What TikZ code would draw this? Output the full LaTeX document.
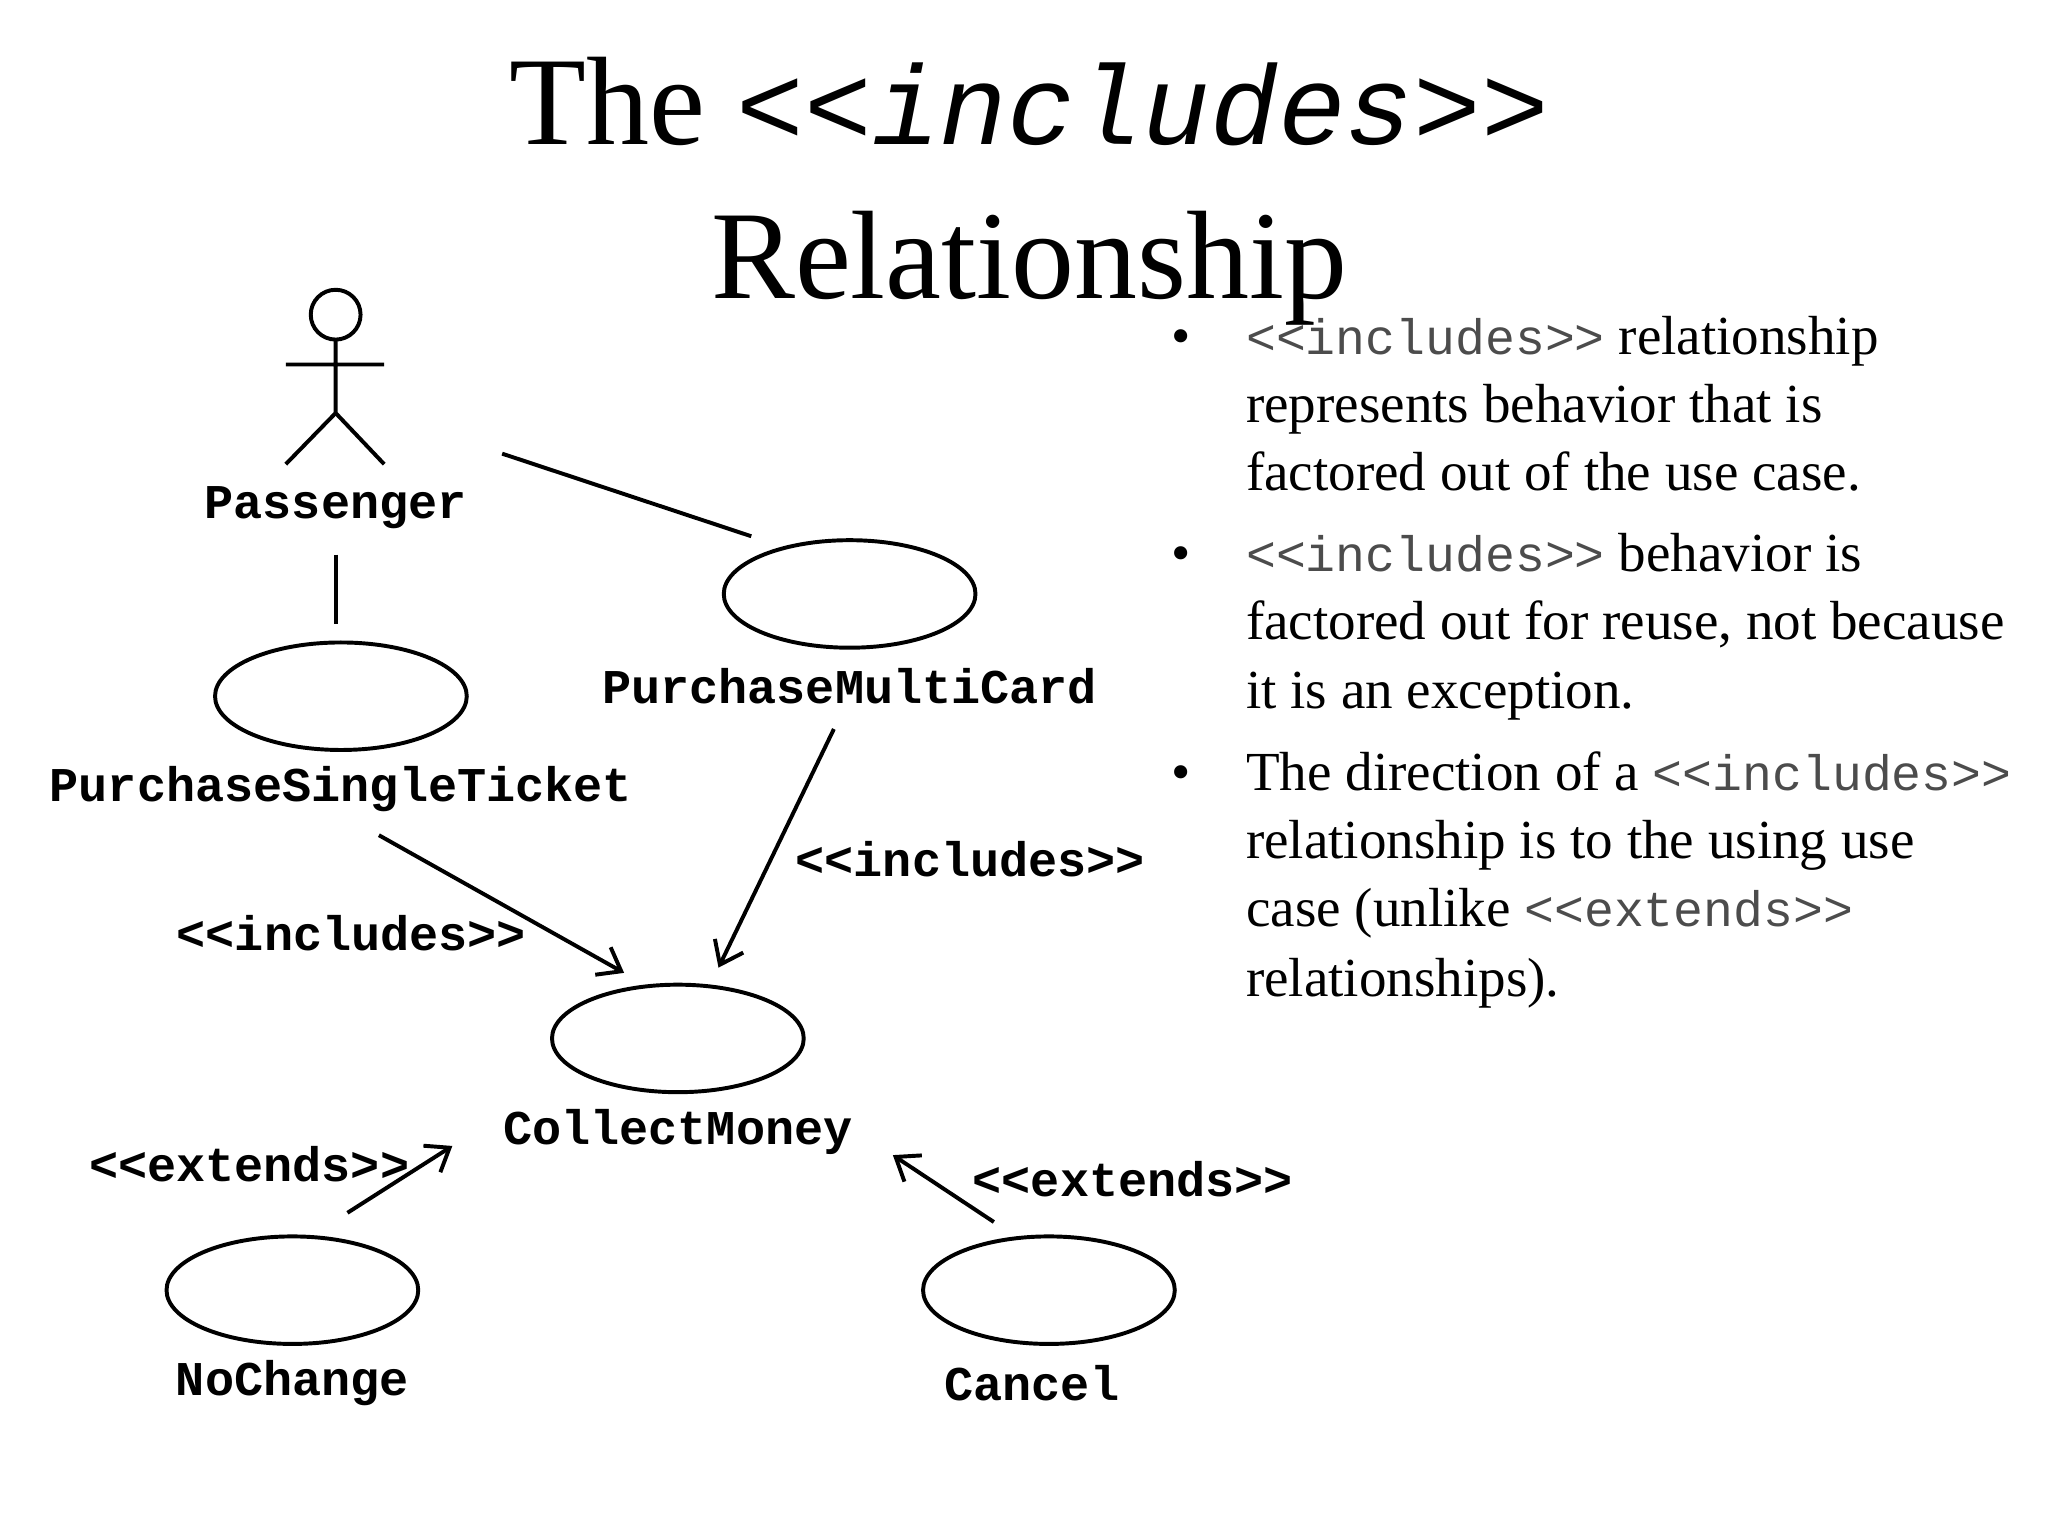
\documentclass[tikz,border=0pt]{standalone}
\usepackage{fontspec}
\setmainfont{Liberation Serif}
\setmonofont{Liberation Mono}
\usetikzlibrary{arrows.meta,shapes.geometric}
\newcommand{\mymono}[1]{{\fontsize{19}{20}\selectfont\ttfamily\color{black!70}#1}}
\begin{document}
\begin{tikzpicture}[x=0.5pt,y=-0.5pt,
  uc/.style={draw,line width=1.5pt,ellipse,minimum width=96pt,minimum height=41pt,inner sep=0pt},
  lbl/.style={font=\fontsize{18.5}{21}\selectfont\ttfamily\bfseries},
  ln/.style={line width=1.5pt},
  arr/.style={line width=1.5pt,-{Straight Barb[length=8pt,width=12pt,line width=1.5pt]}},
  bt/.style={anchor=base west,font=\fontsize{21}{24}\selectfont,inner sep=0pt}]
\useasboundingbox (0,0) rectangle (1562,1172);
\node[font=\fontsize{48}{54}\selectfont,anchor=base] (t1) at (785,110) {The \textit{\texttt{\fontsize{43}{50}\selectfont<{}<includes>{}>}}};
\node[font=\fontsize{48}{54}\selectfont,anchor=base] (t2) at (785,228) {Relationship};
% actor
\draw[ln] (256,240) circle (9.5pt);
\draw[ln] (256,260) -- (256,315) (218,278) -- (293,278) (218,354) -- (256,315) -- (293,354);
\node[lbl] (pass) at (256,387) {Passenger};
% use cases
\node[uc] (pst) at (260,531) {};
\node[uc] (pmc) at (648,453) {};
\node[uc] (cm) at (517,792) {};
\node[uc] (nc) at (223,984) {};
\node[uc] (ca) at (800,984) {};
\node[lbl] (lpmc) at (648,523) {PurchaseMultiCard};
\node[lbl] (lpst) at (260,602) {PurchaseSingleTicket};
\node[lbl] (lcm) at (517,863) {CollectMoney};
\node[lbl] (lnc) at (223,1055) {NoChange};
\node[lbl] (lca) at (787,1055) {Cancel};
% connectors
\coordinate (a1) at (256,423); \coordinate (a2) at (256,476);
\coordinate (b1) at (383,346); \coordinate (b2) at (573,409);
\draw[ln] (a1) -- (a2);
\draw[ln] (b1) -- (b2);
\coordinate (c1) at (289,637); \coordinate (c2) at (476,742);
\coordinate (d1) at (636,556); \coordinate (d2) at (548,738);
\coordinate (e1) at (265,925); \coordinate (e2) at (345,874);
\coordinate (f1) at (758,932); \coordinate (f2) at (681,881);
\draw[arr] (c1) -- (c2);
\draw[arr] (d1) -- (d2);
\draw[arr] (e1) -- (e2);
\draw[arr] (f1) -- (f2);
\node[lbl] (i1) at (268,712) {<{}<includes>{}>};
\node[lbl] (i2) at (740,655) {<{}<includes>{}>};
\node[lbl] (x1) at (190,888) {<{}<extends>{}>};
\node[lbl] (x2) at (864,899) {<{}<extends>{}>};
% bullets
\foreach \y in {270,436,603} \node[bt] at (893,\y) {•};
\node[bt] (l1) at (950,270) {\mymono{<{}<includes>{}>} relationship};
\node[bt] (l2) at (950,322) {represents behavior that is};
\node[bt] (l3) at (950,374) {factored out of the use case.};
\node[bt] (l4) at (950,436) {\mymono{<{}<includes>{}>} behavior is};
\node[bt] (l5) at (950,488) {factored out for reuse, not because};
\node[bt] (l6) at (950,540) {it is an exception.};
\node[bt] (l7) at (950,603) {The direction of a \mymono{<{}<includes>{}>}};
\node[bt] (l8) at (950,655) {relationship is to the using use};
\node[bt] (l9) at (950,707) {case (unlike \mymono{<{}<extends>{}>}};
\node[bt] (l10) at (950,760) {relationships).};
\end{tikzpicture}
\end{document}
